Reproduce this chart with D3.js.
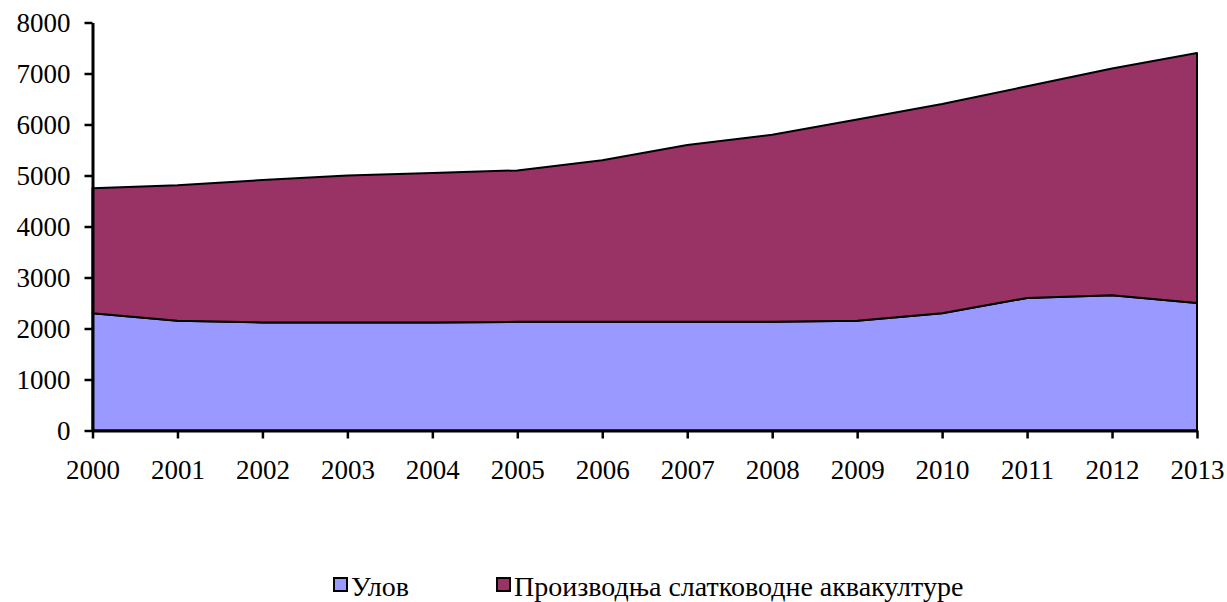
<!DOCTYPE html>
<html>
<head>
<meta charset="utf-8">
<script src="https://cdn.jsdelivr.net/npm/d3@7"></script>
<style>
  body { margin: 0; background: #fff; }
  text { font-family: "Liberation Serif", "Times New Roman", serif; fill: #000; }
</style>
</head>
<body>
<script>
var years = [2000, 2001, 2002, 2003, 2004, 2005, 2006, 2007, 2008, 2009, 2010, 2011, 2012, 2013];
// Улов
var catchValues = [2300, 2150, 2120, 2120, 2120, 2130, 2130, 2130, 2130, 2150, 2300, 2600, 2650, 2500];
// Производња слатководне аквакултуре
var aquaValues = [2450, 2660, 2790, 2880, 2930, 2970, 3170, 3470, 3670, 3950, 4100, 4150, 4450, 4900];
var seriesNames = ["Улов", "Производња слатководне аквакултуре"];
var seriesColors = ["#9999ff", "#993366"];
var yTicks = [0, 1000, 2000, 3000, 4000, 5000, 6000, 7000, 8000];

var width = 1227, height = 602;
var margin = { left: 92.5, right: 30, top: 22.5, bottom: 171.5 };

var svg = d3.select("body")
  .append("svg")
  .attr("width", width)
  .attr("height", height);

var x = d3.scaleLinear()
  .domain([years[0], years[years.length - 1]])
  .range([margin.left, width - margin.right]);

var y = d3.scaleLinear()
  .domain([0, 8000])
  .range([height - margin.bottom, margin.top]);

var rows = years.map(function (yr, i) {
  return { year: yr, s0: catchValues[i], s1: aquaValues[i] };
});

var stacked = d3.stack().keys(["s0", "s1"])(rows);

var area = d3.area()
  .x(function (d) { return x(d.data.year); })
  .y0(function (d) { return y(d[0]); })
  .y1(function (d) { return y(d[1]); });

svg.selectAll("path.layer")
  .data(stacked)
  .enter()
  .append("path")
  .attr("class", "layer")
  .attr("d", area)
  .attr("fill", function (d, i) { return seriesColors[i]; })
  .attr("stroke", "#000")
  .attr("stroke-width", 2)
  .attr("stroke-linejoin", "round");

// y axis
var yAxis = svg.append("g")
  .attr("transform", "translate(" + margin.left + ",0)")
  .call(d3.axisLeft(y).tickValues(yTicks).tickFormat(d3.format("d"))
    .tickSize(8).tickPadding(14).tickSizeOuter(0));

// x axis
var xAxis = svg.append("g")
  .attr("transform", "translate(0," + y(0) + ")")
  .call(d3.axisBottom(x).tickValues(years).tickFormat(d3.format("d"))
    .tickSize(8).tickPadding(21).tickSizeOuter(0));

[yAxis, xAxis].forEach(function (g) {
  g.attr("font-family", null).attr("font-size", null);
  g.select(".domain").attr("stroke", "#000").attr("stroke-width", 3);
  g.selectAll(".tick line").attr("stroke", "#000").attr("stroke-width", 2.5);
  g.selectAll(".tick text")
    .style("font-family", "'Liberation Serif', 'Times New Roman', serif")
    .style("font-size", "27px")
    .attr("fill", "#000");
});

// legend
var legendItems = [
  { name: seriesNames[0], color: seriesColors[0], x: 334 },
  { name: seriesNames[1], color: seriesColors[1], x: 497 }
];

var item = svg.append("g")
  .selectAll("g")
  .data(legendItems)
  .enter()
  .append("g")
  .attr("transform", function (d) { return "translate(" + d.x + ",578)"; });

item.append("rect")
  .attr("width", 13)
  .attr("height", 13)
  .attr("fill", function (d) { return d.color; })
  .attr("stroke", "#000")
  .attr("stroke-width", 2);

item.append("text")
  .attr("x", 17)
  .attr("y", 18)
  .style("font-size", "28px")
  .text(function (d) { return d.name; });
</script>
</body>
</html>
